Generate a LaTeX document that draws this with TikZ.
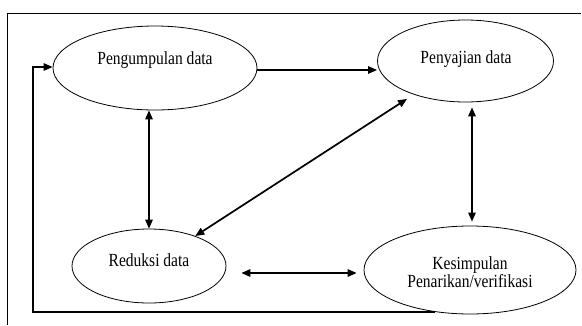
\documentclass[tikz,border=0pt]{standalone}
\usepackage{fontspec}
\setmainfont{Liberation Serif}
\newfontfamily\condserif[FakeStretch=0.84]{Liberation Serif}
\usetikzlibrary{shapes.geometric,arrows.meta}
\begin{document}
\begin{tikzpicture}[x=1pt,y=-1pt,
  ell/.style={draw,ellipse,line width=0.8pt,inner sep=0pt},
  lbl/.style={font=\condserif\fontsize{18.5}{18}\selectfont,inner sep=0pt,anchor=base},
  arr/.style={line width=1.3pt,-{Triangle[length=9pt,width=7.5pt]}},
  darr/.style={line width=1.3pt,{Triangle[length=9pt,width=7.5pt]}-{Triangle[length=9pt,width=7.5pt]}},
  frame/.style={line width=0.8pt}]
\useasboundingbox (0,0) rectangle (582,325);
% frame
\coordinate (ftl) at (7,13);
\coordinate (ftr) at (581,13);
\coordinate (fbl) at (7,325);
\draw[frame] (fbl) -- (ftl) -- (ftr);
% ellipses
\node[ell,minimum width=204pt,minimum height=84pt] (peng) at (155,68) {};
\node[ell,minimum width=176pt,minimum height=82pt] (pen) at (465.5,61) {};
\node[ell,minimum width=154pt,minimum height=74pt] (red) at (149,266) {};
\node[ell,minimum width=212pt,minimum height=88pt] (kes) at (470,270) {};
% labels
\node[lbl] (tpeng) at (155,64) {Pengumpulan data};
\node[lbl] (tpen) at (466,63) {Penyajian data};
\node[lbl] (tred) at (149,266) {Reduksi data};
\node[lbl,align=center] (tkes) at (470,287) {Kesimpulan\\Penarikan/verifikasi};
% connectors
\draw[arr] ([yshift=-2pt]peng.east) -- ([yshift=-2pt]peng.east -| pen.west);
\draw[darr] (red.north) -- (red.north |- peng.south);
\draw[darr,line width=1.7pt,shorten >=8pt] (red) -- (pen);
\draw[darr,shorten <=4pt,shorten >=5pt] ([xshift=2pt]kes.north) -- ([xshift=2pt]kes.north |- pen.south);
\draw[darr,line width=1.5pt,shorten <=15pt,shorten >=7pt] ([yshift=-7pt]red.east) -- ([yshift=-7pt]red.east -| kes.west);
\coordinate (fbx) at (33,67);
\draw[arr] (kes.230) -| (fbx) -- (fbx -| peng.west);
\end{tikzpicture}
\end{document}
